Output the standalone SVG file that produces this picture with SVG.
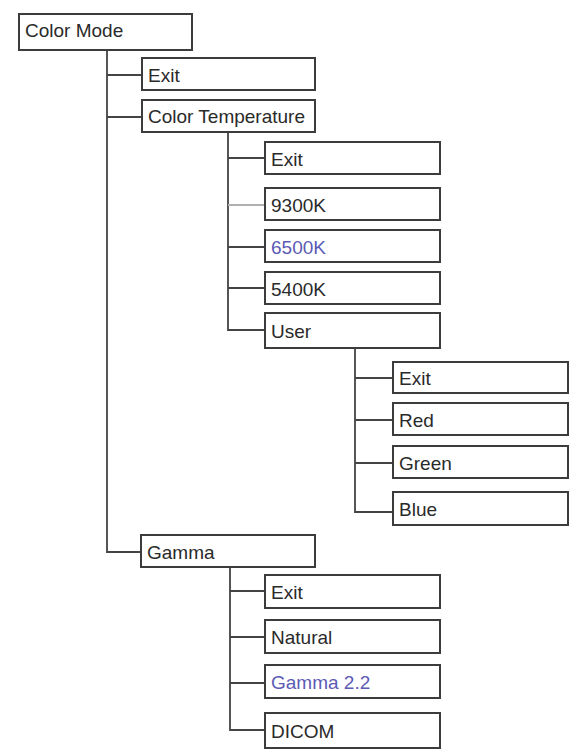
<svg xmlns="http://www.w3.org/2000/svg" width="579" height="754" viewBox="0 0 579 754">
<style>
.box{fill:#fff;stroke:#3c3c3c;stroke-width:2}
.t{font-family:"Liberation Sans",Arial,sans-serif;font-size:19px;fill:#2a2a2a}
.b{fill:#5b5bb5}
.c{fill:none;stroke:#444;stroke-width:1.8}
.lt{stroke:#b0b0b0}
</style>
<rect width="579" height="754" fill="#fff"/>
<g id="connectors">
<path class="c" d="M107 50V552H141M107 75H142M107 117H142"/>
<path class="c" d="M228 132V330H265M228 158H265M228 247H265M228 288H265"/>
<path class="c lt" d="M228 205H265"/>
<path class="c" d="M355 348V512H393M355 378H393M355 420H393M355 463H393"/>
<path class="c" d="M230 567V730H265M230 591H265M230 637H265M230 683H265"/>
</g>
<g id="color-mode"><rect class="box" x="19" y="14" width="173" height="36"/><text class="t" x="25" y="37">Color Mode</text></g>
<g id="exit-1"><rect class="box" x="142" y="58" width="173" height="32"/><text class="t" x="148" y="82">Exit</text></g>
<g id="color-temperature"><rect class="box" x="142" y="100" width="173" height="32"/><text class="t" x="148" y="123">Color Temperature</text></g>
<g id="exit-2"><rect class="box" x="265" y="142" width="175" height="32"/><text class="t" x="271" y="166">Exit</text></g>
<g id="k9300"><rect class="box" x="265" y="188" width="175" height="32"/><text class="t" x="271" y="212">9300K</text></g>
<g id="k6500"><rect class="box" x="265" y="230" width="175" height="32"/><text class="t b" x="271" y="254">6500K</text></g>
<g id="k5400"><rect class="box" x="265" y="272" width="175" height="32"/><text class="t" x="271" y="296">5400K</text></g>
<g id="user"><rect class="box" x="265" y="313" width="175" height="35"/><text class="t" x="271" y="338">User</text></g>
<g id="exit-3"><rect class="box" x="393" y="362" width="175" height="31"/><text class="t" x="399" y="385">Exit</text></g>
<g id="red"><rect class="box" x="393" y="403" width="175" height="32"/><text class="t" x="399" y="427">Red</text></g>
<g id="green"><rect class="box" x="393" y="446" width="175" height="32"/><text class="t" x="399" y="470">Green</text></g>
<g id="blue"><rect class="box" x="393" y="492" width="175" height="33"/><text class="t" x="399" y="516">Blue</text></g>
<g id="gamma"><rect class="box" x="141" y="535" width="174" height="32"/><text class="t" x="147" y="559">Gamma</text></g>
<g id="exit-4"><rect class="box" x="265" y="575" width="175" height="33"/><text class="t" x="271" y="599">Exit</text></g>
<g id="natural"><rect class="box" x="265" y="620" width="175" height="33"/><text class="t" x="271" y="644">Natural</text></g>
<g id="gamma-22"><rect class="box" x="265" y="665" width="175" height="33"/><text class="t b" x="271" y="689">Gamma 2.2</text></g>
<g id="dicom"><rect class="box" x="265" y="713" width="175" height="35"/><text class="t" x="271" y="738">DICOM</text></g>
</svg>
